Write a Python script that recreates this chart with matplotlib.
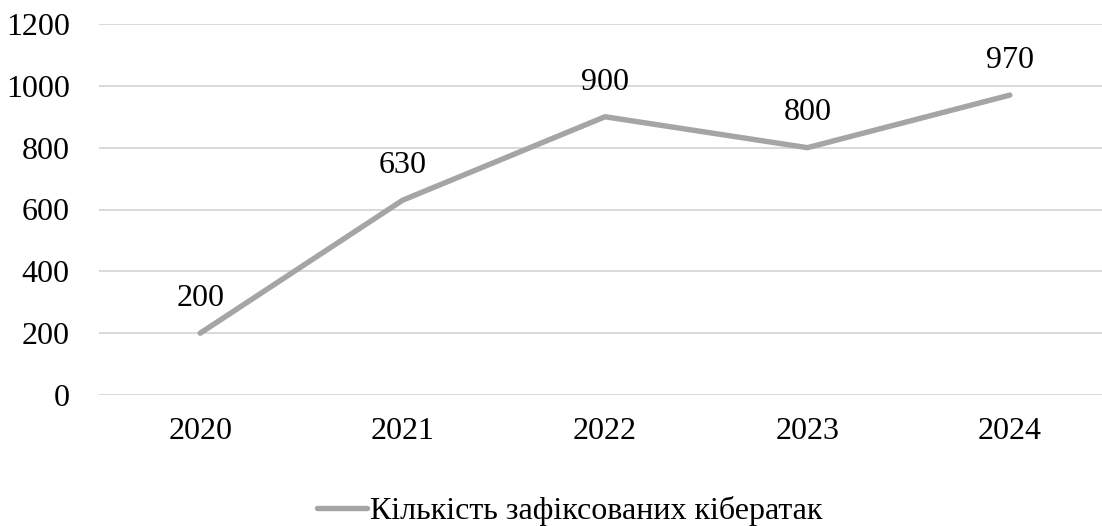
import numpy as np
import matplotlib.pyplot as plt

plt.rcParams['font.family'] = ['Liberation Serif', 'DejaVu Serif']

years = ['2020', '2021', '2022', '2023', '2024']
attacks = [200, 630, 900, 800, 970]
y_ticks = [0, 200, 400, 600, 800, 1000, 1200]
series_name = 'Кількість зафіксованих кібератак'

fig = plt.figure(figsize=(11.02, 5.26), dpi=100)
ax = fig.add_axes([99 / 1102, 131 / 526, 1012 / 1102, 371 / 526])

x = np.arange(len(years))
ax.plot(x, attacks, color='#A5A5A5', linewidth=3.9, solid_capstyle='round',
        label=series_name, zorder=3)

for xi, val in zip(x, attacks):
    ax.annotate(str(val), (xi, val), xytext=(0, 25), textcoords='offset points',
                ha='center', va='center', fontsize=23, color='black')

ax.set_xlim(-0.5, len(years) - 0.5)
ax.set_ylim(0, 1200)
ax.set_yticks(y_ticks)
ax.set_xticks(x)
ax.set_xticklabels(years)
ax.tick_params(axis='both', length=0, labelsize=23)
ax.tick_params(axis='y', pad=21)
ax.tick_params(axis='x', pad=16)
ax.grid(axis='y', color='#D9D9D9', linewidth=1.4)
ax.set_axisbelow(True)
for side in ax.spines.values():
    side.set_visible(False)

fig.legend(loc='center', bbox_to_anchor=(570 / 1102, 1 - 511 / 526), frameon=False,
           fontsize=23, handlelength=1.55, handletextpad=0.12)

fig.savefig('out.png', dpi=100)
